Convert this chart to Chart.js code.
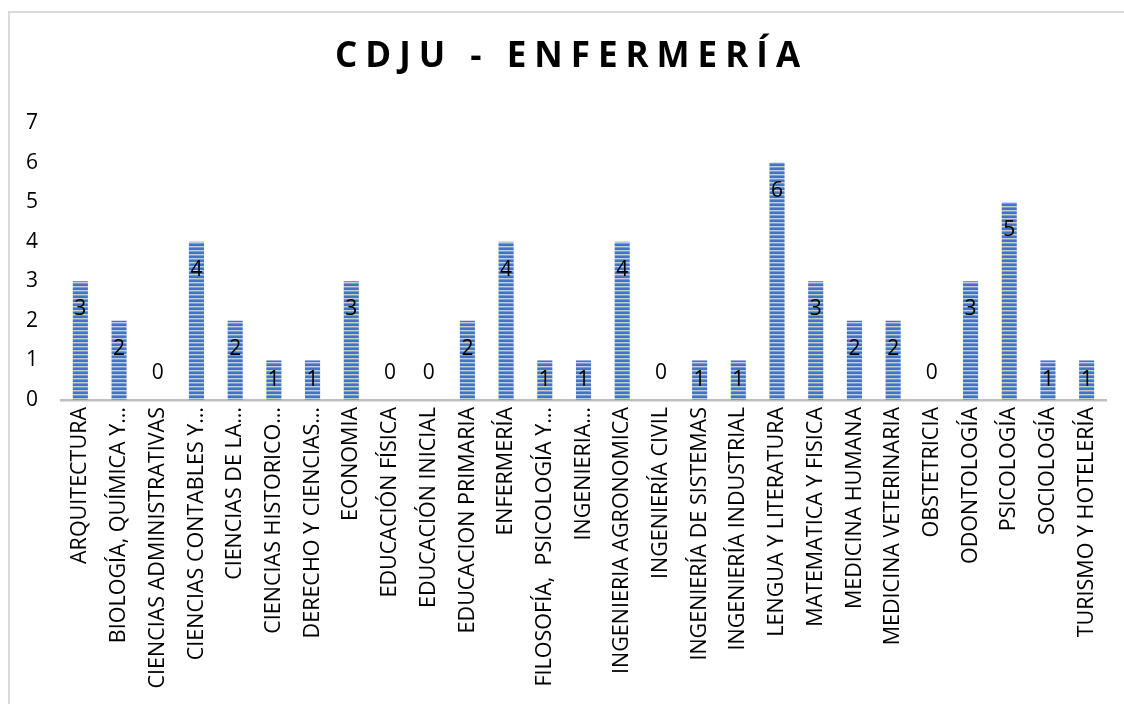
<!DOCTYPE html>
<html>
<head>
<meta charset="utf-8">
<script src="https://cdn.jsdelivr.net/npm/chart.js@4.4.1/dist/chart.umd.min.js"></script>
<style>
  html, body { margin: 0; padding: 0; background: #ffffff; overflow: hidden; }
  #frame { position: absolute; left: 8px; top: 11px; width: 2000px; height: 2000px;
           border-left: 2px solid #D9D9D9; border-top: 2px solid #D9D9D9; }
  #wrap { position: absolute; left: 0; top: 0; width: 1124px; height: 704px; }
</style>
</head>
<body>
<div id="frame"></div>
<div id="wrap"><canvas id="c"></canvas></div>
<script>
const chartTitle = 'CDJU - ENFERMERÍA';
const categories = [
  'ARQUITECTURA',
  'BIOLOGÍA, QUÍMICA Y…',
  'CIENCIAS ADMINISTRATIVAS',
  'CIENCIAS CONTABLES Y…',
  'CIENCIAS DE LA…',
  'CIENCIAS HISTORICO…',
  'DERECHO Y CIENCIAS…',
  'ECONOMIA',
  'EDUCACIÓN FÍSICA',
  'EDUCACIÓN INICIAL',
  'EDUCACION PRIMARIA',
  'ENFERMERÍA',
  'FILOSOFÍA,  PSICOLOGÍA Y…',
  'INGENIERIA…',
  'INGENIERIA AGRONOMICA',
  'INGENIERÍA CIVIL',
  'INGENIERÍA DE SISTEMAS',
  'INGENIERÍA INDUSTRIAL',
  'LENGUA Y LITERATURA',
  'MATEMATICA Y FISICA',
  'MEDICINA HUMANA',
  'MEDICINA VETERINARIA',
  'OBSTETRICIA',
  'ODONTOLOGÍA',
  'PSICOLOGÍA',
  'SOCIOLOGÍA',
  'TURISMO Y HOTELERÍA'
];
const values = [3, 2, 0, 4, 2, 1, 1, 3, 0, 0, 2, 4, 1, 1, 4, 0, 1, 1, 6, 3, 2, 2, 0, 3, 5, 1, 1];
const yMin = 0;
const yMax = 7;
const yStep = 1;

const FONT = "'Open Sans', 'DejaVu Sans', sans-serif";

// striped fill pattern
function makePattern() {
  const p = document.createElement('canvas');
  p.width = 4; p.height = 4;
  const g = p.getContext('2d');
  g.fillStyle = '#4472C4'; g.fillRect(0, 0, 4, 2);
  g.fillStyle = '#BCCDEB'; g.fillRect(0, 2, 4, 1);
  g.fillStyle = '#7A9BD9'; g.fillRect(0, 3, 4, 1);
  return g.createPattern(p, 'repeat');
}
const stripe = makePattern();

const valueLabels = {
  id: 'valueLabels',
  afterDatasetsDraw(chart) {
    const ctx = chart.ctx;
    const meta = chart.getDatasetMeta(0);
    const base = chart.scales.y.getPixelForValue(0);
    ctx.save();
    ctx.font = '21px ' + FONT;
    ctx.fillStyle = '#000000';
    ctx.textAlign = 'center';
    ctx.textBaseline = 'middle';
    meta.data.forEach((bar, i) => {
      const v = values[i];
      let y;
      if (v === 0) y = base - 27;
      else y = Math.min(bar.y + 28, (bar.y + base) / 2);
      ctx.fillText(String(v), bar.x, y);
    });
    ctx.restore();
  }
};

const spacedTitle = {
  id: 'spacedTitle',
  afterInit(chart) {
    const tb = chart.titleBlock;
    if (!tb) return;
    const orig = tb.draw;
    tb.draw = function () {
      const ctx = chart.ctx;
      ctx.save();
      ctx.letterSpacing = '8px';
      ctx.translate(11, 0);
      orig.apply(this, arguments);
      ctx.restore();
    };
  }
};

new Chart(document.getElementById('c'), {
  type: 'bar',
  data: {
    labels: categories,
    datasets: [{
      data: values,
      backgroundColor: stripe,
      borderWidth: 0,
      barPercentage: 0.39,
      categoryPercentage: 1.0
    }]
  },
  options: {
    responsive: true,
    maintainAspectRatio: false,
    animation: false,
    devicePixelRatio: 1,
    layout: { padding: { left: 15, right: 18, top: 0, bottom: 0 } },
    plugins: {
      legend: { display: false },
      tooltip: { enabled: false },
      title: {
        display: true,
        text: chartTitle,
        color: '#000000',
        font: { family: FONT, size: 35, weight: 'bold' },
        padding: { top: 36, bottom: 45 }
      }
    },
    scales: {
      x: {
        grid: { display: false, drawTicks: false },
        border: { display: true, color: '#BFBFBF', width: 2.5 },
        ticks: {
          autoSkip: false,
          maxRotation: 90,
          minRotation: 90,
          padding: 7,
          color: '#000000',
          font: { family: FONT, size: 21.5 }
        },
        afterFit(scale) { scale.height = 304; }
      },
      y: {
        min: yMin,
        max: yMax,
        grid: { display: false, drawTicks: false },
        border: { display: false },
        ticks: {
          stepSize: yStep,
          padding: 23,
          color: '#000000',
          font: { family: FONT, size: 21 }
        },
        afterFit(scale) { scale.width = 46; }
      }
    }
  },
  plugins: [spacedTitle, valueLabels]
});
</script>
</body>
</html>
